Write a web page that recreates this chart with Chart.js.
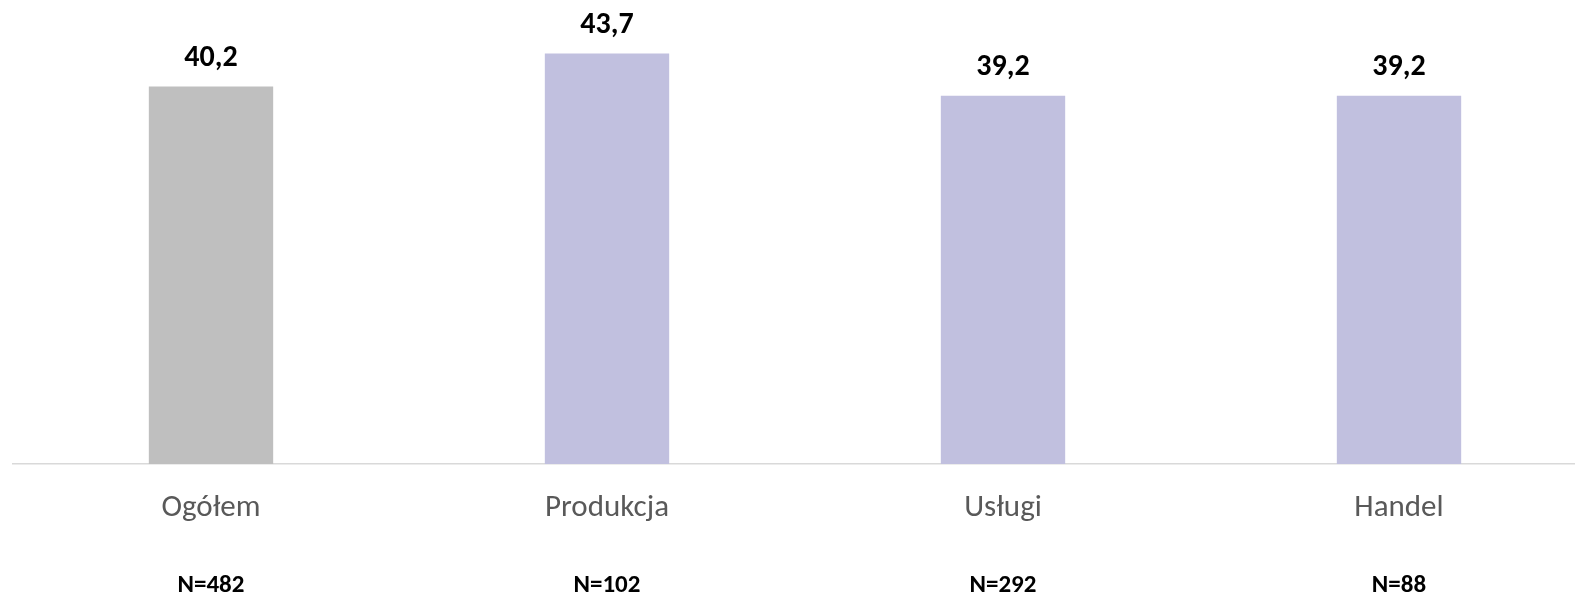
<!DOCTYPE html>
<html>
<head>
<meta charset="utf-8">
<script src="https://cdn.jsdelivr.net/npm/chart.js@4"></script>
<style>
    html, body { margin: 0; padding: 0; background: #fff; overflow: hidden; }
    #wrap { width: 1597px; height: 596px; position: relative; }
</style>
</head>
<body>
<div id="wrap"><canvas id="barChart"></canvas></div>
<script>
// chart data
const categories = ["Ogółem", "Produkcja", "Usługi", "Handel"];
const sampleSizes = ["N=482", "N=102", "N=292", "N=88"];
const values = [40.2, 43.7, 39.2, 39.2];
const barColors = ["#bfbfbf", "#c1c0df", "#c1c0df", "#c1c0df"];

const FONT = "Carlito, Lato, 'Open Sans', sans-serif";

// draws the value above each bar
const valueLabels = {
    id: "valueLabels",
    afterDatasetsDraw(chart) {
        const ctx = chart.ctx;
        const meta = chart.getDatasetMeta(0);
        ctx.save();
        ctx.font = "bold 30px " + FONT;
        ctx.fillStyle = "#000";
        ctx.textAlign = "center";
        ctx.textBaseline = "middle";
        meta.data.forEach(function (bar, i) {
            const txt = values[i].toFixed(1).replace(".", ",");
            ctx.fillText(txt, bar.x, bar.y - 28);
        });
        ctx.restore();
    }
};

const ctx = document.getElementById("barChart").getContext("2d");
new Chart(ctx, {
    type: "bar",
    data: {
        labels: categories,
        datasets: [{
            data: values,
            backgroundColor: barColors,
            categoryPercentage: 1,
            barPercentage: 0.314
        }]
    },
    options: {
        responsive: true,
        maintainAspectRatio: false,
        animation: false,
        layout: { padding: { left: 13, top: 0, right: 0, bottom: 0 } },
        plugins: {
            legend: { display: false },
            tooltip: { enabled: false }
        },
        scales: {
            x: {
                position: "bottom",
                grid: { display: false, drawTicks: false },
                border: { display: true, color: "#d9d9d9", width: 1.5 },
                ticks: {
                    color: "#595959",
                    font: { family: FONT, size: 31 },
                    padding: 26,
                    maxRotation: 0
                },
                afterFit: function (scale) { scale.height = 59; }
            },
            x2: {
                type: "category",
                labels: sampleSizes,
                position: "bottom",
                grid: { display: false, drawTicks: false },
                border: { display: false },
                ticks: {
                    color: "#000",
                    font: { family: FONT, size: 25, weight: "bold" },
                    padding: 48,
                    maxRotation: 0
                },
                afterFit: function (scale) { scale.height = 73; }
            },
            y: {
                display: false,
                min: 0,
                max: 49.4
            }
        }
    },
    plugins: [valueLabels]
});
</script>
</body>
</html>
